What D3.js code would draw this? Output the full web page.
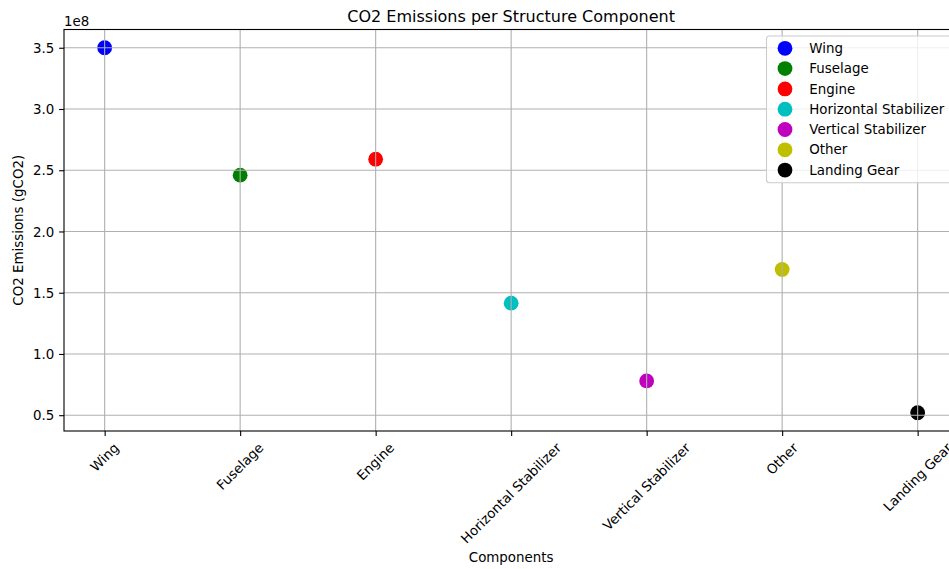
<!DOCTYPE html>
<html>
<head>
<meta charset="utf-8">
<script src="https://cdn.jsdelivr.net/npm/d3@7"></script>
<style>
  html, body { margin: 0; padding: 0; background: #fff; }
  svg { display: block; font-family: "DejaVu Sans", sans-serif; }
</style>
</head>
<body>
<svg id="chart" width="949" height="569"></svg>
<script>
// Emissions per structural component (gCO2), plotted in units of 1e8
const components = ["Wing", "Fuselage", "Engine", "Horizontal Stabilizer", "Vertical Stabilizer", "Other", "Landing Gear"];
const emissions = [3.50e8, 2.46e8, 2.59e8, 1.415e8, 0.78e8, 1.69e8, 0.52e8];
const colors = ["#0000ff", "#008000", "#ff0000", "#00bfbf", "#bf00bf", "#bfbf00", "#000000"];
const yTicks = [0.5e8, 1.0e8, 1.5e8, 2.0e8, 2.5e8, 3.0e8, 3.5e8];
const yTickLabels = ["0.5", "1.0", "1.5", "2.0", "2.5", "3.0", "3.5"];

const svg = d3.select("#chart");
// axes box (right edge runs past the page edge)
const axLeft = 64, axTop = 29.5, axRight = 958.3, axBottom = 431;
const fs = 13.4;

// x: categorical positions 0..n-1 with 5% margin on each side
const n = components.length;
const xPad = 0.05 * (n - 1);
const x = d3.scaleLinear().domain([-xPad, n - 1 + xPad]).range([axLeft, axRight]);

// y: linear with 5% data margin
const yMin = d3.min(emissions), yMax = d3.max(emissions);
const yPad = 0.05 * (yMax - yMin);
const y = d3.scaleLinear().domain([yMin - yPad, yMax + yPad]).range([axBottom, axTop]);

svg.append("defs").append("clipPath").attr("id", "plotclip")
  .append("rect").attr("x", axLeft).attr("y", axTop).attr("width", axRight - axLeft).attr("height", axBottom - axTop);

// markers (drawn beneath the grid)
const plot = svg.append("g").attr("clip-path", "url(#plotclip)");
plot.selectAll("circle.pt").data(components).join("circle")
  .attr("class", "pt")
  .attr("cx", (d, i) => x(i))
  .attr("cy", (d, i) => y(emissions[i]))
  .attr("r", 7.4)
  .attr("fill", (d, i) => colors[i]);

// grid lines
const grid = svg.append("g").attr("clip-path", "url(#plotclip)")
  .attr("stroke", "#b0b0b0").attr("stroke-width", 1.1);
grid.selectAll("line.gx").data(d3.range(n)).join("line").attr("class", "gx")
  .attr("x1", d => x(d)).attr("x2", d => x(d)).attr("y1", axTop).attr("y2", axBottom);
grid.selectAll("line.gy").data(yTicks).join("line").attr("class", "gy")
  .attr("y1", d => y(d)).attr("y2", d => y(d)).attr("x1", axLeft).attr("x2", axRight);

// axes via d3
const xAxis = d3.axisBottom(x).tickValues(d3.range(n)).tickSize(4.9).tickPadding(3.5).tickFormat(() => "");
const gx = svg.append("g").attr("transform", `translate(0,${axBottom})`).call(xAxis);
gx.select(".domain").remove();
gx.selectAll(".tick line").attr("stroke", "#000").attr("stroke-width", 1.1);

const yAxis = d3.axisLeft(y).tickValues(yTicks).tickSize(4.9).tickPadding(4.9)
  .tickFormat((d, i) => yTickLabels[i]);
const gy = svg.append("g").attr("transform", `translate(${axLeft},0)`).call(yAxis);
gy.select(".domain").remove();
gy.selectAll(".tick line").attr("stroke", "#000").attr("stroke-width", 1.1);
gy.selectAll(".tick text").attr("font-size", fs).attr("fill", "#000")
  .attr("font-family", "DejaVu Sans").attr("dy", "0.35em");

// rotated category labels (45°, bounding box centred under each tick)
const labelTop = axBottom + 4.9 + 4.9;
const xl = svg.append("g").attr("font-size", fs).attr("fill", "#000");
components.forEach((c, i) => {
  const t = xl.append("text").text(c).attr("text-anchor", "middle").attr("dominant-baseline", "central");
  const L = t.node().getComputedTextLength();
  const h = fs * 1.0;
  const side = (L + h) * Math.SQRT1_2;
  const cy = labelTop + side / 2;
  t.attr("transform", `translate(${x(i)},${cy}) rotate(-45)`);
});

// spines
svg.append("rect").attr("x", axLeft).attr("y", axTop).attr("width", axRight - axLeft).attr("height", axBottom - axTop)
  .attr("fill", "none").attr("stroke", "#000").attr("stroke-width", 1.1);

// offset text, title, axis labels
svg.append("text").attr("x", axLeft).attr("y", 26).attr("font-size", fs).text("1e8");
svg.append("text").attr("x", (axLeft + axRight) / 2).attr("y", 21.5).attr("text-anchor", "middle")
  .attr("font-size", 16).text("CO2 Emissions per Structure Component");
svg.append("text").attr("x", (axLeft + axRight) / 2).attr("y", 562).attr("text-anchor", "middle")
  .attr("font-size", fs).text("Components");
svg.append("text").attr("transform", `translate(23,${(axTop + axBottom) / 2}) rotate(-90)`)
  .attr("text-anchor", "middle").attr("font-size", fs).text("CO2 Emissions (gCO2)");

// legend
const lg = svg.append("g");
const lgLeft = 766.5, lgTop = 36, lgRight = 951, rowH = 20.3;
lg.append("rect").attr("x", lgLeft).attr("y", lgTop).attr("width", lgRight - lgLeft)
  .attr("height", rowH * n + 4.6).attr("rx", 3)
  .attr("fill", "#fff").attr("fill-opacity", 0.8).attr("stroke", "#cccccc").attr("stroke-width", 1.1);
components.forEach((c, i) => {
  const cy = lgTop + 12.3 + i * rowH;
  lg.append("circle").attr("cx", 785).attr("cy", cy).attr("r", 7.4).attr("fill", colors[i]);
  lg.append("text").attr("x", 809.3).attr("y", cy).attr("dy", "0.35em").attr("font-size", fs).text(c);
});
</script>
</body>
</html>
